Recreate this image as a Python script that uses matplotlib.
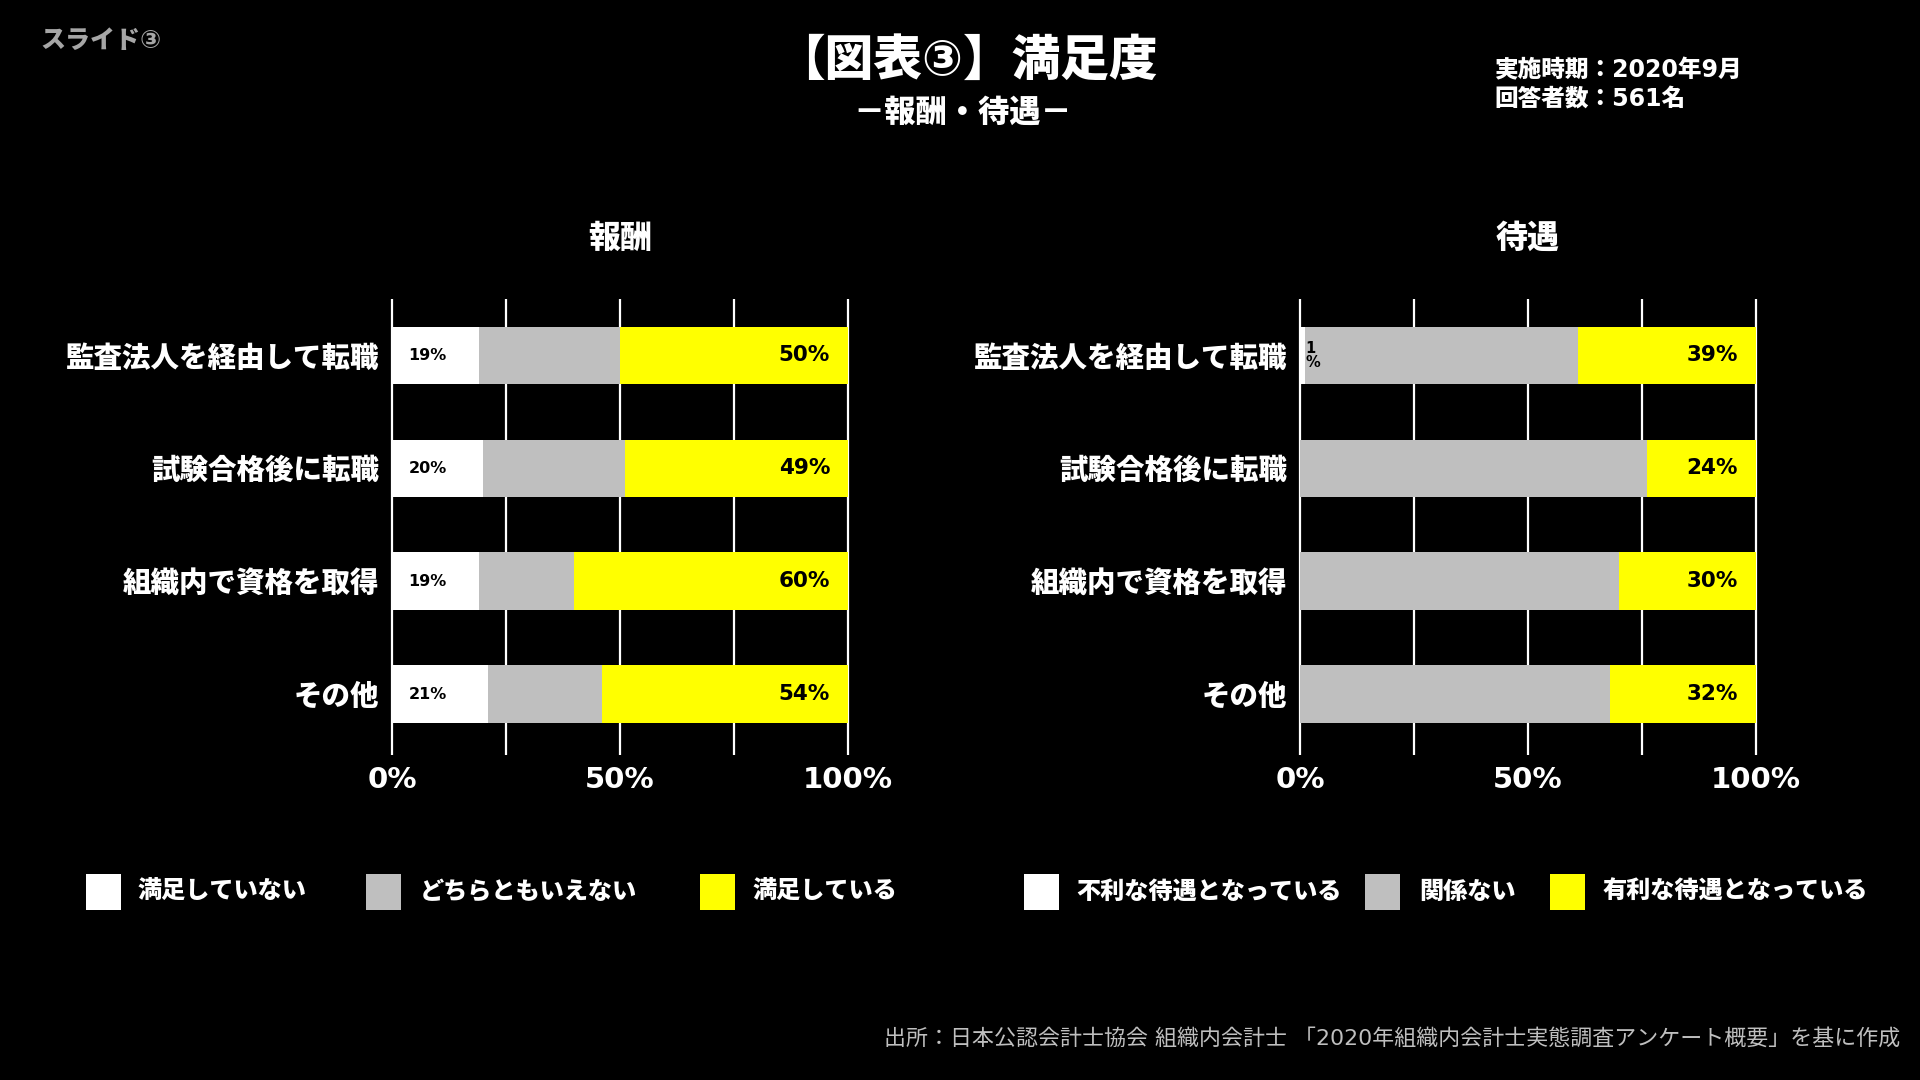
import matplotlib
matplotlib.use("Agg")
import matplotlib.pyplot as plt
from matplotlib.patches import Rectangle

plt.rcParams['font.family'] = ['DejaVu Sans', 'Noto Sans CJK JP']

# ---- data (percent) ----
CATEGORIES = ["監査法人を経由して転職", "試験合格後に転職", "組織内で資格を取得", "その他"]

PAY_TITLE = "報酬"
PAY_LABELS = ["満足していない", "どちらともいえない", "満足している"]
PAY_UNSATISFIED = [19, 20, 19, 21]
PAY_NEUTRAL = [31, 31, 21, 25]
PAY_SATISFIED = [50, 49, 60, 54]

TREAT_TITLE = "待遇"
TREAT_LABELS = ["不利な待遇となっている", "関係ない", "有利な待遇となっている"]
TREAT_UNFAVORABLE = [1, 0, 0, 0]
TREAT_NEUTRAL = [60, 76, 70, 68]
TREAT_FAVORABLE = [39, 24, 30, 32]

TICKS = [0, 50, 100]
GRID = [0, 25, 50, 75, 100]
COLORS = ["#ffffff", "#bfbfbf", "#ffff00"]

W, H = 1920, 1080
BOLD = "heavy"


def fx(px):
    return px / W


def fy(py):
    return 1 - py / H


def draw_panel(ax, title, series):
    low, mid, high = series
    ys = list(range(len(CATEGORIES)))
    left = [0] * len(ys)
    for vals, col in zip(series, COLORS):
        ax.barh(ys, vals, left=left, height=0.51, color=col, zorder=3)
        left = [a + b for a, b in zip(left, vals)]

    # bar labels: lowest segment at its base, top segment at the end
    for i, v in enumerate(low):
        if v <= 0:
            continue
        if v >= 5:
            ax.annotate(f"{v}%", xy=(0, i), xytext=(12, 0), textcoords="offset points",
                        ha="left", va="center", fontsize=11.5, fontweight="bold",
                        color="black", zorder=4)
        else:
            ax.annotate(f"{v}\n%", xy=(0, i), xytext=(4, 0), textcoords="offset points",
                        ha="left", va="center", fontsize=10.5, fontweight="bold",
                        color="black", linespacing=0.95, zorder=4)
    for i, v in enumerate(high):
        ax.annotate(f"{v}%", xy=(100, i), xytext=(-13, 0), textcoords="offset points",
                    ha="right", va="center", fontsize=15.5, fontweight="bold",
                    color="black", zorder=4)

    ax.vlines(GRID, -0.5, 3.54, color="white", lw=1.6, zorder=1, clip_on=False)
    ax.set_xlim(0, 100)
    ax.set_ylim(3.54, -0.5)
    ax.set_xticks(TICKS)
    ax.set_xticklabels([f"{t}%" for t in TICKS])
    ax.set_yticks(ys)
    ax.set_yticklabels(CATEGORIES)
    ax.tick_params(length=0, colors="white")
    ax.tick_params(axis="x", pad=8, labelsize=21)
    ax.tick_params(axis="y", pad=9, labelsize=20.5)
    for lab in ax.get_xticklabels() + ax.get_yticklabels():
        lab.set_fontweight(BOLD)
    for s in ax.spines.values():
        s.set_visible(False)
    ax.set_facecolor("black")
    ax.text(0.5, 1.13, title, transform=ax.transAxes, ha="center", va="center",
            fontsize=23, fontweight=BOLD, color="white")


def draw_legend(fig, labels, box_x, text_x):
    for lab, col, bx, tx in zip(labels, COLORS, box_x, text_x):
        fig.add_artist(Rectangle((fx(bx), fy(910)), fx(35), 36 / H,
                                 facecolor=col, edgecolor="none",
                                 transform=fig.transFigure))
        fig.text(fx(tx), fy(892), lab, ha="left", va="center", fontsize=17.4,
                 fontweight=BOLD, color="white")


fig = plt.figure(figsize=(19.2, 10.8), dpi=100, facecolor="black")

ax1 = fig.add_axes([fx(392), fy(755), fx(456), 456 / H])
ax2 = fig.add_axes([fx(1300), fy(755), fx(456), 456 / H])
draw_panel(ax1, PAY_TITLE, [PAY_UNSATISFIED, PAY_NEUTRAL, PAY_SATISFIED])
draw_panel(ax2, TREAT_TITLE, [TREAT_UNFAVORABLE, TREAT_NEUTRAL, TREAT_FAVORABLE])

draw_legend(fig, PAY_LABELS, [86, 366, 700], [138, 420, 753])
draw_legend(fig, TREAT_LABELS, [1024, 1365, 1550], [1076, 1419, 1603])

fig.text(fx(40), fy(41), "スライド③", ha="left", va="center", fontsize=18,
         fontweight=BOLD, color="#a6a6a6")
fig.text(fx(967), fy(61), "【図表③】満足度", ha="center", va="center", fontsize=35,
         fontweight=BOLD, color="white")
fig.text(fx(963), fy(113), "－報酬・待遇－", ha="center", va="center", fontsize=22.5,
         fontweight=BOLD, color="white")
fig.text(fx(1494), fy(70), "実施時期：2020年9月", ha="left", va="center", fontsize=17,
         fontweight=BOLD, color="white")
fig.text(fx(1494), fy(99), "回答者数：561名", ha="left", va="center", fontsize=17,
         fontweight=BOLD, color="white")
fig.text(fx(1900), fy(1038),
         "出所：日本公認会計士協会 組織内会計士 「2020年組織内会計士実態調査アンケート概要」を基に作成",
         ha="right", va="center", fontsize=15.8, color="#bfbfbf")

fig.savefig("out.png", dpi=100, facecolor="black")
